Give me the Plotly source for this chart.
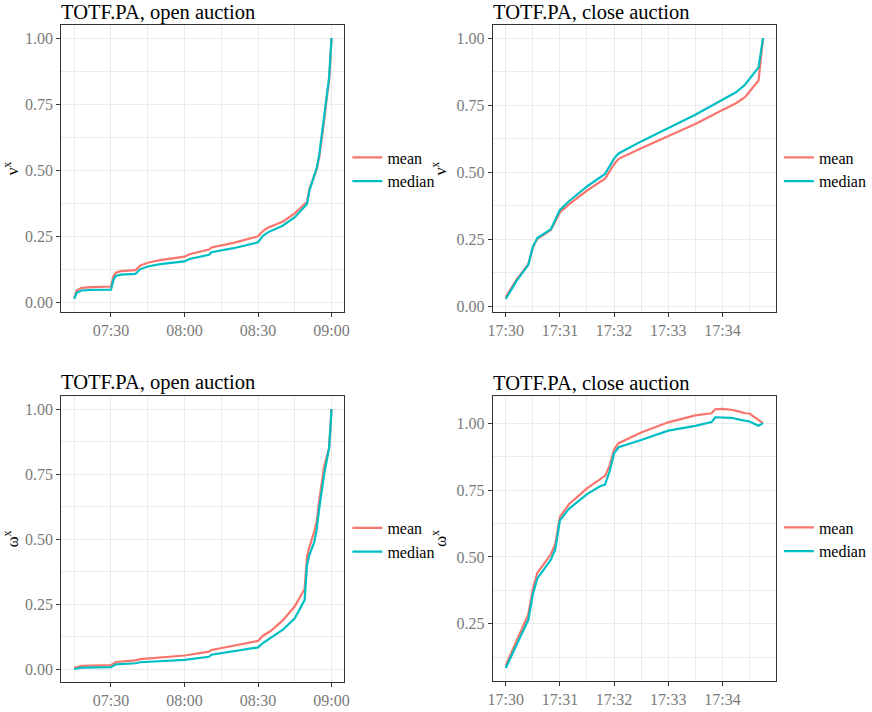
import plotly.graph_objects as go

DAY = "2020-01-02 "

# ---- nu^x, open auction ----
nu_open_t = ["07:15", "07:16", "07:18", "07:22", "07:30", "07:31", "07:32", "07:34", "07:40", "07:42",
             "07:45", "07:50", "08:00", "08:02", "08:10", "08:11", "08:20", "08:30", "08:32", "08:34",
             "08:40", "08:45", "08:50", "08:51", "08:52", "08:53", "08:54", "08:55", "08:56", "08:57",
             "08:58", "08:59", "09:00"]
nu_open_mean = [0.016, 0.045, 0.055, 0.058, 0.060, 0.098, 0.112, 0.118, 0.122, 0.140,
                0.150, 0.160, 0.173, 0.182, 0.200, 0.208, 0.225, 0.250, 0.270, 0.282,
                0.305, 0.337, 0.381, 0.430, 0.455, 0.480, 0.505, 0.550, 0.615, 0.690,
                0.770, 0.840, 1.000]
nu_open_median = [0.013, 0.036, 0.045, 0.047, 0.048, 0.085, 0.100, 0.105, 0.108, 0.126,
                  0.136, 0.145, 0.155, 0.164, 0.180, 0.190, 0.205, 0.227, 0.252, 0.265,
                  0.290, 0.322, 0.372, 0.425, 0.452, 0.480, 0.510, 0.560, 0.630, 0.705,
                  0.785, 0.850, 1.000]

# ---- nu^x, close auction ----
nu_close_t = ["17:30:00", "17:30:12", "17:30:25", "17:30:30", "17:30:35", "17:30:50", "17:31:00",
              "17:31:10", "17:31:30", "17:31:50", "17:32:00", "17:32:05", "17:32:30", "17:33:00",
              "17:33:30", "17:34:00", "17:34:15", "17:34:25", "17:34:40", "17:34:45"]
nu_close_mean = [0.035, 0.100, 0.157, 0.220, 0.252, 0.285, 0.350,
                 0.380, 0.432, 0.476, 0.530, 0.550, 0.589, 0.635,
                 0.680, 0.732, 0.757, 0.780, 0.842, 1.000]
nu_close_median = [0.028, 0.095, 0.155, 0.222, 0.255, 0.288, 0.360,
                   0.392, 0.447, 0.494, 0.551, 0.570, 0.615, 0.666,
                   0.714, 0.770, 0.798, 0.826, 0.891, 1.000]

# ---- omega^x, open auction ----
om_open_t = ["07:15", "07:18", "07:30", "07:32", "07:40", "07:42", "08:00", "08:10", "08:11",
             "08:20", "08:30", "08:32", "08:35", "08:40", "08:45", "08:49", "08:50", "08:51",
             "08:53", "08:54", "08:55", "08:57", "08:59", "09:00"]
om_open_mean = [0.005, 0.012, 0.015, 0.027, 0.033, 0.038, 0.052, 0.067, 0.073,
                0.090, 0.108, 0.128, 0.145, 0.186, 0.241, 0.308, 0.433, 0.470,
                0.530, 0.570, 0.651, 0.780, 0.850, 1.000]
om_open_median = [0.000, 0.005, 0.007, 0.018, 0.022, 0.026, 0.035, 0.047, 0.055,
                  0.068, 0.083, 0.100, 0.120, 0.150, 0.195, 0.265, 0.400, 0.440,
                  0.490, 0.540, 0.620, 0.750, 0.850, 1.000]

# ---- omega^x, close auction ----
om_close_t = ["17:30:00", "17:30:25", "17:30:30", "17:30:35", "17:30:50", "17:30:55", "17:31:00",
              "17:31:10", "17:31:30", "17:31:45", "17:31:50", "17:31:55", "17:32:00", "17:32:05",
              "17:32:30", "17:33:00", "17:33:30", "17:33:48", "17:33:52", "17:34:00", "17:34:10",
              "17:34:20", "17:34:25", "17:34:30", "17:34:40", "17:34:45"]
om_close_mean = [0.095, 0.285, 0.380, 0.440, 0.510, 0.550, 0.650,
                 0.697, 0.756, 0.790, 0.803, 0.840, 0.902, 0.925,
                 0.965, 1.003, 1.029, 1.037, 1.052, 1.053, 1.050,
                 1.042, 1.037, 1.036, 1.013, 1.000]
om_close_median = [0.085, 0.265, 0.360, 0.420, 0.490, 0.530, 0.637,
                   0.680, 0.735, 0.765, 0.770, 0.820, 0.887, 0.910,
                   0.937, 0.972, 0.990, 1.004, 1.022, 1.021, 1.020,
                   1.012, 1.008, 1.006, 0.990, 1.000]

titles = ["TOTF.PA, open auction", "TOTF.PA, close auction",
          "TOTF.PA, open auction", "TOTF.PA, close auction"]
ytitles = ["ν<sup>x</sup>", "ν<sup>x</sup>", "ω<sup>x</sup>", "ω<sup>x</sup>"]
series_names = ["mean", "median"]
colors = ["#F8766D", "#00BFC4"]

W, H = 872, 712
FONT = "Liberation Serif"
GRID = "#EBEBEB"

panels = [
    (nu_open_t, nu_open_mean, nu_open_median),
    (nu_close_t, nu_close_mean, nu_close_median),
    (om_open_t, om_open_mean, om_open_median),
    (om_close_t, om_close_mean, om_close_median),
]

# pixel layout of the panels (left, right, top, bottom)
boxes = [(62, 348, 25, 312), (498, 784, 25, 312), (62, 348, 396, 682), (498, 784, 396, 681)]

fig = go.Figure()

for i, (tt, mean, med) in enumerate(panels):
    n = i + 1
    xa = "x" if n == 1 else f"x{n}"
    ya = "y" if n == 1 else f"y{n}"
    lg = "legend" if n == 1 else f"legend{n}"
    xs = [DAY + t for t in tt]
    for name, vals, col in zip(series_names, [mean, med], colors):
        fig.add_trace(go.Scatter(x=xs, y=vals, mode="lines", name=name,
                                 line=dict(color=col, width=2.2),
                                 xaxis=xa, yaxis=ya, legend=lg))
    l, r, t, b = boxes[i]
    open_auction = (i % 2 == 0)
    if open_auction:
        xr = [DAY + "07:09:45", DAY + "09:05:15"]
        xdtick = 30 * 60 * 1000
        xminor = 15 * 60 * 1000
        x0 = DAY + "07:00"
    else:
        xr = [DAY + "17:29:45.75", DAY + "17:34:59.25"]
        xdtick = 60 * 1000
        xminor = 30 * 1000
        x0 = DAY + "17:30"
    ymin = min(min(mean), min(med))
    ymax = max(max(mean), max(med))
    pad = (ymax - ymin) * 0.05
    xkey = "xaxis" if n == 1 else f"xaxis{n}"
    ykey = "yaxis" if n == 1 else f"yaxis{n}"
    fig.update_layout(**{
        xkey: dict(domain=[l / W, r / W], anchor=ya, type="date", range=xr,
                   tickformat="%H:%M", dtick=xdtick, tick0=x0,
                   showgrid=True, gridcolor=GRID, gridwidth=1,
                   minor=dict(showgrid=True, gridcolor=GRID, gridwidth=0.6, dtick=xminor, tick0=x0),
                   showline=True, linecolor="#333333", linewidth=1.2, mirror=True,
                   ticks="outside", ticklen=4, tickcolor="#333333",
                   tickfont=dict(family=FONT, size=16, color="#7a7a7a"),
                   zeroline=False, automargin=False),
        ykey: dict(domain=[1 - b / H, 1 - t / H], anchor=xa, range=[ymin - pad, ymax + pad],
                   dtick=0.25, tick0=0, tickformat=".2f",
                   showgrid=True, gridcolor=GRID, gridwidth=1,
                   minor=dict(showgrid=True, gridcolor=GRID, gridwidth=0.6, dtick=0.125, tick0=0.125),
                   showline=True, linecolor="#333333", linewidth=1.2, mirror=True,
                   ticks="outside", ticklen=4, tickcolor="#333333",
                   tickfont=dict(family=FONT, size=16, color="#7a7a7a"),
                   title=dict(text=ytitles[i], font=dict(family=FONT, size=17, color="#000"), standoff=5),
                   zeroline=False, automargin=False),
        lg: dict(x=(l + 289) / W, y=1 - ((t + b) / 2 + 1) / H, xanchor="left", yanchor="middle",
                 font=dict(family=FONT, size=16, color="#000"), bgcolor="rgba(0,0,0,0)",
                 itemwidth=30, tracegroupgap=0),
    })
    fig.add_annotation(text=titles[i], x=l / W, y=1 - (t - 13) / H, xref="paper", yref="paper",
                       xanchor="left", yanchor="middle", showarrow=False, xshift=-2,
                       font=dict(family=FONT, size=20.5, color="#000"))

fig.update_layout(width=W, height=H, margin=dict(l=0, r=0, t=0, b=0),
                  paper_bgcolor="white", plot_bgcolor="white", showlegend=True)

fig.write_html("out.html")
